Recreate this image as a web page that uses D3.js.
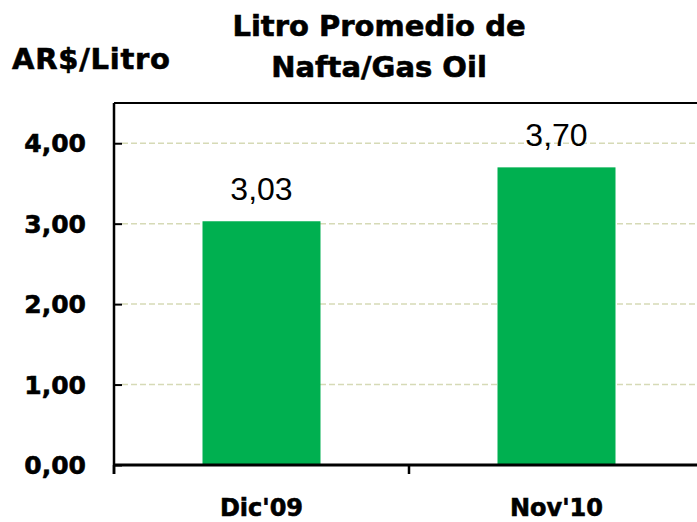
<!DOCTYPE html>
<html>
<head>
<meta charset="utf-8">
<script src="https://cdn.jsdelivr.net/npm/d3@7"></script>
<style>
  body { margin: 0; background: #fff; }
  svg { display: block; }
  .heavy { font-family: "DejaVu Sans", sans-serif; font-weight: bold; fill: #000; stroke: #000; stroke-width: 0.6; }
</style>
</head>
<body>
<script>
var categories = ["Dic'09", "Nov'10"];
var values = [3.03, 3.70];
var yTicks = [0, 1, 2, 3, 4];
var titleLines = ['Litro Promedio de', 'Nafta/Gas Oil'];

var width = 697, height = 522;
var plotLeft = 114, plotRight = 704, plotTop = 103, plotBottom = 465;

var fmt = function(v){ return v.toFixed(2).replace('.', ','); };

var svg = d3.select('body').append('svg')
  .attr('width', width)
  .attr('height', height);

var x = d3.scaleBand().domain(categories).range([plotLeft, plotRight]).padding(0);
var y = d3.scaleLinear().domain([0, 4.5]).range([plotBottom, plotTop]);

// grid
svg.append('g').selectAll('line')
  .data(yTicks.filter(function(d){ return d > 0; }))
  .enter().append('line')
  .attr('x1', plotLeft + 8).attr('x2', plotRight)
  .attr('y1', function(d){ return y(d); })
  .attr('y2', function(d){ return y(d); })
  .attr('stroke', '#d6dab6')
  .attr('stroke-width', 1.5)
  .attr('stroke-dasharray', '6,3');

// top border
svg.append('line')
  .attr('x1', plotLeft).attr('x2', plotRight)
  .attr('y1', plotTop).attr('y2', plotTop)
  .attr('stroke', '#000').attr('stroke-width', 2);

// bars
var bw = x.bandwidth() * 0.4;
svg.append('g').selectAll('rect')
  .data(values)
  .enter().append('rect')
  .attr('x', function(d, i){ return x(categories[i]) + (x.bandwidth() - bw) / 2; })
  .attr('y', function(d){ return y(d); })
  .attr('width', bw)
  .attr('height', function(d){ return y(0) - y(d); })
  .attr('fill', '#00b050');

// value labels
svg.append('g').selectAll('text')
  .data(values)
  .enter().append('text')
  .attr('x', function(d, i){ return x(categories[i]) + x.bandwidth() / 2; })
  .attr('y', function(d){ return y(d) - 21; })
  .attr('text-anchor', 'middle')
  .attr('font-family', 'Liberation Sans, Arial, sans-serif')
  .attr('font-size', 32)
  .text(fmt);

// y axis
var yAxis = d3.axisRight(y).tickValues(yTicks).tickSize(8).tickFormat('');
var gy = svg.append('g').attr('transform', 'translate(' + plotLeft + ',0)').call(yAxis);
gy.select('.domain').attr('stroke', '#000').attr('stroke-width', 2.5)
  .attr('d', 'M0,' + plotTop + 'V' + (plotBottom + 9));
gy.selectAll('.tick line').attr('stroke', '#000').attr('stroke-width', 2);

svg.append('g').selectAll('text')
  .data(yTicks)
  .enter().append('text')
  .attr('class', 'heavy')
  .attr('x', 86)
  .attr('y', function(d){ return y(d); })
  .attr('dy', '0.36em')
  .attr('text-anchor', 'end')
  .attr('font-size', 25)
  .text(fmt);

// x axis
svg.append('line')
  .attr('x1', plotLeft).attr('x2', plotRight)
  .attr('y1', plotBottom).attr('y2', plotBottom)
  .attr('stroke', '#000').attr('stroke-width', 3);
svg.append('g').selectAll('line')
  .data(categories.concat(['end']))
  .enter().append('line')
  .attr('x1', function(d, i){ return plotLeft + i * x.bandwidth(); })
  .attr('x2', function(d, i){ return plotLeft + i * x.bandwidth(); })
  .attr('y1', plotBottom).attr('y2', plotBottom + 9)
  .attr('stroke', '#000').attr('stroke-width', 2.5);

svg.append('g').selectAll('text')
  .data(categories)
  .enter().append('text')
  .attr('class', 'heavy')
  .attr('x', function(d){ return x(d) + x.bandwidth() / 2; })
  .attr('y', 516)
  .attr('text-anchor', 'middle')
  .attr('font-size', 24)
  .text(function(d){ return d; });

// titles
svg.append('g').selectAll('text')
  .data(titleLines)
  .enter().append('text')
  .attr('class', 'heavy')
  .attr('x', 379)
  .attr('y', function(d, i){ return 36 + i * 41; })
  .attr('text-anchor', 'middle')
  .attr('font-size', 29)
  .text(function(d){ return d; });

svg.append('text')
  .attr('class', 'heavy')
  .attr('x', 12)
  .attr('y', 69)
  .attr('font-size', 29)
  .attr('textLength', 158)
  .text('AR$/Litro');
</script>
</body>
</html>
